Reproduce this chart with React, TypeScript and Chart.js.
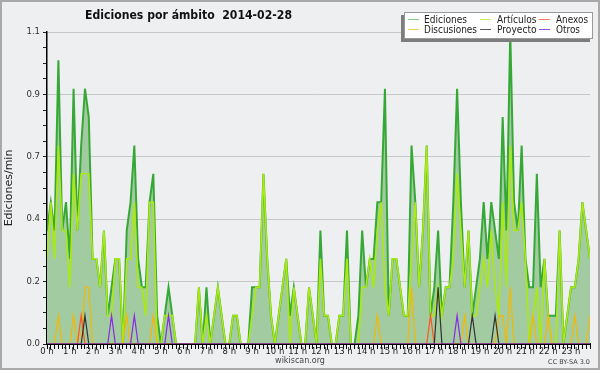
import React, { useEffect, useRef } from 'react';
import { Chart, registerables } from 'chart.js';

Chart.register(...registerables);

const titleText = 'Ediciones por ámbito  2014-02-28';
const yTitle = 'Ediciones/min';
const footerSite = 'wikiscan.org';
const footerLicense = 'CC BY-SA 3.0';

const hourLabels = [
  '0 h', '1 h', '2 h', '3 h', '4 h', '5 h', '6 h', '7 h', '8 h', '9 h', '10 h', '11 h',
  '12 h', '13 h', '14 h', '15 h', '16 h', '17 h', '18 h', '19 h', '20 h', '21 h', '22 h', '23 h',
];

const seriesNames = ['Ediciones', 'Artículos', 'Anexos', 'Discusiones', 'Proyecto', 'Otros'];

// edits per minute, one value per 10-minute bin (144 bins)
const ediciones = [
  0.4, 0.5, 0.4, 1.0, 0.4, 0.5, 0.3, 0.9, 0.4, 0.7, 0.9, 0.8,
  0.3, 0.3, 0.2, 0.4, 0.1, 0.2, 0.3, 0.3, 0, 0.4, 0.5, 0.7,
  0.3, 0.2, 0.2, 0.5, 0.6, 0.1, 0, 0.1, 0.2, 0.1, 0, 0,
  0, 0, 0, 0, 0.2, 0, 0.2, 0, 0.1, 0.2, 0.1, 0,
  0, 0.1, 0.1, 0, 0, 0, 0.2, 0.2, 0.2, 0.6, 0.3, 0.1,
  0, 0.1, 0.2, 0.3, 0.1, 0.2, 0.1, 0, 0, 0.2, 0.1, 0,
  0.4, 0.1, 0.1, 0, 0, 0.1, 0.1, 0.4, 0, 0, 0.1, 0.4,
  0.2, 0.3, 0.3, 0.5, 0.5, 0.9, 0.1, 0.3, 0.3, 0.2, 0.1, 0.1,
  0.7, 0.5, 0.2, 0.4, 0.7, 0.1, 0.2, 0.4, 0.1, 0.2, 0.2, 0.5,
  0.9, 0.5, 0.2, 0.4, 0.1, 0.2, 0.3, 0.5, 0.3, 0.5, 0.4, 0.3,
  0.8, 0.4, 1.1, 0.5, 0.4, 0.7, 0.3, 0.2, 0.2, 0.6, 0.2, 0.3,
  0.1, 0.1, 0.1, 0.4, 0, 0.1, 0.2, 0.2, 0.3, 0.5, 0.4, 0.3,
];

const articulos = [
  0.3, 0.5, 0.3, 0.7, 0.4, 0.4, 0.2, 0.6, 0.4, 0.6, 0.6, 0.6,
  0.3, 0.3, 0.2, 0.4, 0.1, 0.1, 0.3, 0.3, 0, 0.3, 0.3, 0.5,
  0.2, 0.2, 0.1, 0.5, 0.5, 0, 0, 0.1, 0.1, 0.1, 0, 0,
  0, 0, 0, 0, 0.2, 0, 0.1, 0, 0.1, 0.2, 0.1, 0,
  0, 0.1, 0.1, 0, 0, 0, 0.1, 0.2, 0.2, 0.6, 0.3, 0.1,
  0, 0.1, 0.2, 0.3, 0, 0.2, 0.1, 0, 0, 0.2, 0.1, 0,
  0.3, 0.1, 0.1, 0, 0, 0.1, 0.1, 0.3, 0, 0, 0, 0.2,
  0.2, 0.3, 0.2, 0.4, 0.5, 0.2, 0.1, 0.3, 0.3, 0.2, 0.1, 0.1,
  0.3, 0.5, 0.2, 0.4, 0.7, 0.1, 0.1, 0.2, 0.1, 0.2, 0.2, 0.3,
  0.6, 0.4, 0.2, 0.4, 0.1, 0.1, 0.2, 0.3, 0.2, 0.4, 0.2, 0.1,
  0.5, 0.2, 0.7, 0.4, 0.4, 0.5, 0.3, 0, 0.1, 0.2, 0, 0.3,
  0.1, 0, 0, 0.4, 0, 0.1, 0.2, 0.2, 0.3, 0.5, 0.4, 0.3,
];

const anexos = [
  0, 0, 0, 0, 0, 0, 0, 0, 0, 0.1, 0, 0,
  0, 0, 0, 0, 0, 0, 0, 0, 0, 0, 0, 0,
  0, 0, 0, 0, 0, 0, 0, 0, 0, 0, 0, 0,
  0, 0, 0, 0, 0, 0, 0, 0, 0, 0, 0, 0,
  0, 0, 0, 0, 0, 0, 0, 0, 0, 0, 0, 0,
  0, 0, 0, 0, 0, 0, 0, 0, 0, 0, 0, 0,
  0, 0, 0, 0, 0, 0, 0, 0, 0, 0, 0, 0,
  0, 0, 0, 0, 0, 0, 0, 0, 0, 0, 0, 0,
  0, 0, 0, 0, 0, 0.1, 0, 0, 0, 0, 0, 0,
  0, 0, 0, 0, 0, 0, 0, 0, 0, 0, 0, 0,
  0, 0, 0, 0, 0, 0, 0, 0, 0, 0, 0, 0,
  0, 0, 0, 0, 0, 0, 0, 0, 0, 0, 0, 0,
];

const discusiones = [
  0, 0, 0, 0.1, 0, 0, 0, 0.1, 0, 0, 0.2, 0.2,
  0, 0, 0, 0, 0, 0, 0, 0, 0, 0.1, 0, 0,
  0, 0, 0, 0, 0.1, 0, 0, 0, 0, 0, 0, 0,
  0, 0, 0, 0, 0, 0, 0, 0, 0, 0, 0, 0,
  0, 0, 0, 0, 0, 0, 0, 0, 0, 0, 0, 0,
  0, 0, 0, 0, 0, 0, 0, 0, 0, 0, 0, 0,
  0, 0, 0, 0, 0, 0, 0, 0, 0, 0, 0, 0,
  0, 0, 0, 0.1, 0, 0, 0, 0, 0, 0, 0, 0,
  0.2, 0, 0, 0, 0, 0, 0, 0, 0, 0, 0, 0,
  0, 0, 0.1, 0, 0, 0, 0, 0, 0, 0, 0, 0.1,
  0.1, 0, 0.2, 0, 0, 0, 0, 0, 0.1, 0, 0, 0,
  0.1, 0, 0, 0, 0, 0, 0, 0.1, 0, 0, 0, 0.1,
];

const proyecto = [
  0, 0, 0, 0, 0, 0, 0, 0, 0, 0, 0.1, 0,
  0, 0, 0, 0, 0, 0, 0, 0, 0, 0, 0, 0,
  0, 0, 0, 0, 0, 0, 0, 0, 0, 0, 0, 0,
  0, 0, 0, 0, 0, 0, 0, 0, 0, 0, 0, 0,
  0, 0, 0, 0, 0, 0, 0, 0, 0, 0, 0, 0,
  0, 0, 0, 0, 0, 0, 0, 0, 0, 0, 0, 0,
  0, 0, 0, 0, 0, 0, 0, 0, 0, 0, 0, 0,
  0, 0, 0, 0, 0, 0, 0, 0, 0, 0, 0, 0,
  0, 0, 0, 0, 0, 0, 0, 0.2, 0, 0, 0, 0,
  0, 0, 0, 0, 0.1, 0, 0, 0, 0, 0, 0.1, 0,
  0, 0, 0, 0, 0, 0, 0, 0, 0, 0, 0, 0,
  0, 0, 0, 0, 0, 0, 0, 0, 0, 0, 0, 0,
];

const otros = [
  0, 0, 0, 0, 0, 0, 0, 0, 0, 0, 0, 0,
  0, 0, 0, 0, 0, 0.1, 0, 0, 0, 0, 0, 0.1,
  0, 0, 0, 0, 0, 0, 0, 0, 0.1, 0, 0, 0,
  0, 0, 0, 0, 0, 0, 0, 0, 0, 0, 0, 0,
  0, 0, 0, 0, 0, 0, 0, 0, 0, 0, 0, 0,
  0, 0, 0, 0, 0, 0, 0, 0, 0, 0, 0, 0,
  0, 0, 0, 0, 0, 0, 0, 0, 0, 0, 0, 0,
  0, 0, 0, 0, 0, 0, 0, 0, 0, 0, 0, 0,
  0, 0, 0, 0, 0, 0, 0, 0, 0, 0, 0, 0,
  0.1, 0, 0, 0, 0, 0, 0, 0, 0, 0, 0, 0,
  0, 0, 0, 0, 0, 0, 0, 0, 0, 0, 0, 0,
  0, 0, 0, 0, 0, 0, 0, 0, 0, 0, 0, 0,
];

const lineColors = ['#36a836', '#aaea10', '#ff5522', '#f5b800', '#333333', '#8a2be2'];
const legendColors = ['#7fcf7f', '#c8ee55', '#f28055', '#f7cf4f', '#5a5a5a', '#9a4ae6'];

const toPoints = (arr: number[]) => arr.map((v, i) => ({ x: i, y: v }));

const FONT = "'DejaVu Sans', 'Liberation Sans', sans-serif";

const bgPlugin = {
  id: 'bgFrame',
  beforeDraw(chart: any) {
    const ctx = chart.ctx;
    ctx.save();
    ctx.fillStyle = '#eeeff1';
    ctx.fillRect(0, 0, chart.width, chart.height);
    ctx.strokeStyle = '#a9a9a9';
    ctx.lineWidth = 2;
    ctx.strokeRect(1, 1, chart.width - 2, chart.height - 2);
    ctx.restore();
  },
};

const overlayPlugin = {
  id: 'overlay',
  afterDraw(chart: any) {
    const ctx = chart.ctx;
    ctx.save();
    ctx.textAlign = 'left';
    ctx.textBaseline = 'alphabetic';
    // title
    ctx.fillStyle = '#111';
    ctx.font = `bold 13px ${FONT}`;
    ctx.fillText(titleText, 85, 18.5, 207);

    // legend box with shadow
    ctx.fillStyle = '#7d7d7d';
    ctx.fillRect(401, 15, 189, 27);
    ctx.fillStyle = '#ffffff';
    ctx.fillRect(404, 12, 189, 27);
    ctx.strokeStyle = '#9a9a9a';
    ctx.lineWidth = 1;
    ctx.strokeRect(404.5, 12.5, 188, 26);

    const cols = [
      { sx: 408, tx: 424 },
      { sx: 480, tx: 497 },
      { sx: 539, tx: 556 },
    ];
    const rows = [
      { ly: 19.5, ty: 23.2 },
      { ly: 29.5, ty: 32.8 },
    ];
    const widths = [43, 39.5, 32, 53, 39.5, 24];
    ctx.font = `10px ${FONT}`;
    seriesNames.forEach((name, k) => {
      const c = cols[k % 3];
      const r = rows[Math.floor(k / 3)];
      ctx.strokeStyle = legendColors[k];
      ctx.lineWidth = 1;
      ctx.beginPath();
      ctx.moveTo(c.sx, r.ly);
      ctx.lineTo(c.sx + 11, r.ly);
      ctx.stroke();
      ctx.fillStyle = '#222';
      ctx.fillText(name, c.tx, r.ty, widths[k]);
    });

    // footer
    ctx.fillStyle = '#444';
    ctx.font = `8px ${FONT}`;
    ctx.textAlign = 'center';
    ctx.fillText(footerSite, 300, 363, 50);
    ctx.font = `6.5px ${FONT}`;
    ctx.textAlign = 'right';
    ctx.fillText(footerLicense, 590, 364, 42);
    ctx.restore();
  },
};

export default function App() {
  const canvasRef = useRef<HTMLCanvasElement | null>(null);

  useEffect(() => {
    document.body.style.margin = '0';
    const canvas = canvasRef.current;
    if (!canvas) return;

    const mk = (k: number, data: number[], extra: any) => ({
      label: seriesNames[k],
      data: toPoints(data),
      borderColor: lineColors[k],
      backgroundColor: lineColors[k],
      pointRadius: 0,
      tension: 0,
      fill: false,
      ...extra,
    });

    const chart = new Chart(canvas, {
      type: 'line',
      data: {
        datasets: [
          mk(0, ediciones, { borderWidth: 2, fill: 'origin', backgroundColor: '#a2cba2', order: 6 }),
          mk(1, articulos, { borderWidth: 1.6, order: 5 }),
          mk(3, discusiones, { borderWidth: 1.2, order: 4 }),
          mk(2, anexos, { borderWidth: 1.2, order: 3 }),
          mk(4, proyecto, { borderWidth: 1.2, order: 2 }),
          mk(5, otros, { borderWidth: 1.2, order: 1 }),
        ],
      },
      options: {
        responsive: false,
        animation: false,
        events: [],
        layout: { padding: { top: 32, right: 10, left: 0, bottom: 0 } },
        plugins: {
          legend: { display: false },
          title: { display: false },
          tooltip: { enabled: false },
        },
        scales: {
          x: {
            type: 'linear',
            min: 0,
            max: 143,
            z: 1,
            afterFit: (s: any) => {
              s.height = 26;
            },
            border: { color: '#000', width: 2 },
            grid: { drawOnChartArea: false, drawTicks: true, tickLength: 5, tickColor: '#000', tickWidth: 1 },
            ticks: {
              stepSize: 1,
              autoSkip: false,
              maxTicksLimit: 200,
              maxRotation: 0,
              minRotation: 0,
              padding: -2,
              color: '#222',
              font: { family: FONT, size: 8.5 },
              callback: (v: any) => {
                const n = Math.round(Number(v));
                return n % 6 === 0 ? hourLabels[n / 6] : '';
              },
            },
          },
          y: {
            type: 'linear',
            min: 0,
            max: 1.1,
            z: 1,
            afterFit: (s: any) => {
              s.width = 47;
            },
            border: { color: '#000', width: 1.5 },
            grid: {
              color: (c: any) => (c.index % 4 === 0 ? 'rgba(150,150,150,0.45)' : 'rgba(0,0,0,0)'),
              tickColor: '#222',
              tickLength: 4,
              lineWidth: 1,
            },
            ticks: {
              stepSize: 0.055,
              maxTicksLimit: 100,
              autoSkip: false,
              padding: 3,
              color: '#333',
              font: { family: FONT, size: 8.5 },
              callback: (v: any, i: number) => (i % 4 === 0 ? Number(v).toFixed(1) : ''),
            },
            title: {
              display: true,
              text: yTitle,
              color: '#222',
              font: { family: FONT, size: 11 },
              padding: { top: 3, bottom: 0 },
            },
          },
        },
      } as any,
      plugins: [bgPlugin, overlayPlugin],
    });

    return () => chart.destroy();
  }, []);

  return (
    <div style={{ width: 600, height: 370 }}>
      <canvas ref={canvasRef} width={600} height={370} />
    </div>
  );
}
